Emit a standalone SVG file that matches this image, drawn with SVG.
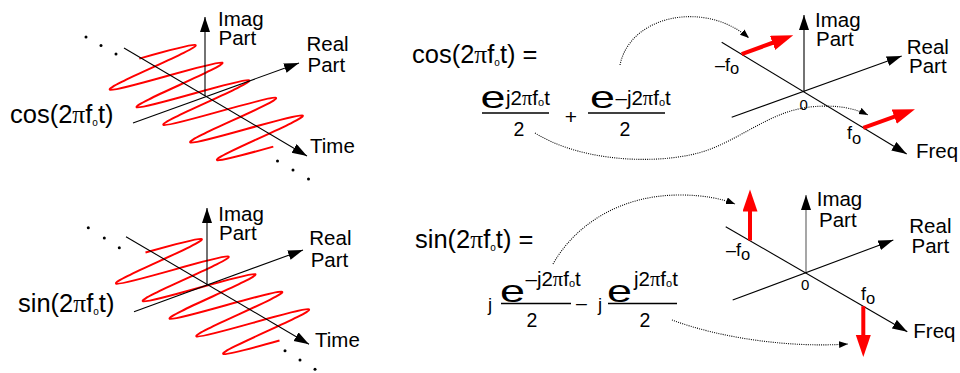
<svg xmlns="http://www.w3.org/2000/svg" width="960" height="373" viewBox="0 0 960 373">
<style>
.ax{stroke:#000;stroke-width:1.1;fill:none}
.wave{fill:none;stroke:#f00;stroke-width:2;vector-effect:non-scaling-stroke}
.t{font-family:"Liberation Sans",Arial,sans-serif;fill:#000}
.lbl{font-size:20.5px}
.pi{font-family:"Liberation Serif","Times New Roman",serif}
.dotc{stroke:#000;stroke-width:1.1;fill:none;stroke-dasharray:1 1.2}
.red{stroke:#f00;stroke-width:4;fill:none}
.fl{stroke:#000;stroke-width:1.6}
.big{font-size:32px}
.sup{font-size:20.5px}
</style>
<defs>
<marker id="ah" markerUnits="userSpaceOnUse" markerWidth="16" markerHeight="11" refX="15" refY="5" orient="auto"><path d="M0,0 L15,5 L0,10 z" fill="#000"/></marker>
<marker id="rh" markerUnits="userSpaceOnUse" markerWidth="24" markerHeight="16" refX="1" refY="7.5" orient="auto"><path d="M0,0 L22,7.5 L0,15 z" fill="#f00"/></marker>
<marker id="sh" markerUnits="userSpaceOnUse" markerWidth="10" markerHeight="8" refX="9" refY="3.5" orient="auto"><path d="M0,0 L9,3.5 L0,7 z" fill="#000"/></marker>
</defs>

<g id="cos-time">
<path class="wave" transform="matrix(6.7 4.4 49.5 -17.9 139.3 58.6)" d="M0,0 C0.326,0.512 0.638,1 1,1 S1.674,0.512 2,0 S2.638,-1 3,-1 S3.674,-0.512 4,0 S4.638,1 5,1 S5.674,0.512 6,0 S6.638,-1 7,-1 S7.674,-0.512 8,0 S8.638,1 9,1 S9.674,0.512 10,0 S10.638,-1 11,-1 S11.674,-0.512 12,0 S12.638,1 13,1 S13.674,0.512 14,0 S14.638,-1 15,-1 S15.674,-0.512 16,0 S16.638,1 17,1 S17.674,0.512 18,0 S18.638,-1 19,-1 S19.674,-0.512 20,0"/>
<line class="ax" x1="205" y1="96" x2="205" y2="17" marker-end="url(#ah)"/>
<line class="ax" x1="133" y1="123" x2="299" y2="63" marker-end="url(#ah)"/>
<line class="ax" x1="124" y1="48" x2="307" y2="156" marker-end="url(#ah)"/>
<circle cx="86" cy="37" r="1.5"/><circle cx="101" cy="45.5" r="1.5"/><circle cx="116" cy="54" r="1.5"/>
<circle cx="277.5" cy="161" r="1.5"/><circle cx="293" cy="170" r="1.5"/><circle cx="308.5" cy="179" r="1.5"/>
<text class="t lbl" x="218" y="26">Imag</text>
<text class="t lbl" x="218.5" y="45">Part</text>
<text class="t lbl" x="306.5" y="51">Real</text>
<text class="t lbl" x="307.5" y="72">Part</text>
<text class="t lbl" x="310" y="153">Time</text>
<text class="t" x="10" y="123" font-size="25.5">cos(2<tspan class="pi">π</tspan>f<tspan font-size="10" dy="3">o</tspan><tspan dy="-3">t)</tspan></text>
</g>

<g id="sin-time">
<path class="wave" transform="matrix(6.7 4.4 49.5 -17.9 145.5 252.5)" d="M0,0 C0.326,0.512 0.638,1 1,1 S1.674,0.512 2,0 S2.638,-1 3,-1 S3.674,-0.512 4,0 S4.638,1 5,1 S5.674,0.512 6,0 S6.638,-1 7,-1 S7.674,-0.512 8,0 S8.638,1 9,1 S9.674,0.512 10,0 S10.638,-1 11,-1 S11.674,-0.512 12,0 S12.638,1 13,1 S13.674,0.512 14,0 S14.638,-1 15,-1 S15.674,-0.512 16,0 S16.638,1 17,1 S17.674,0.512 18,0 S18.638,-1 19,-1 S19.674,-0.512 20,0"/>
<line class="ax" x1="207" y1="285" x2="207" y2="208" marker-end="url(#ah)"/>
<line class="ax" x1="134" y1="311.7" x2="303" y2="250" marker-end="url(#ah)"/>
<line class="ax" x1="126" y1="236.7" x2="309" y2="344.3" marker-end="url(#ah)"/>
<circle cx="88.3" cy="227.7" r="1.5"/><circle cx="104.3" cy="238" r="1.5"/><circle cx="119.3" cy="247.7" r="1.5"/>
<circle cx="285" cy="350.7" r="1.5"/><circle cx="300" cy="360" r="1.5"/><circle cx="315" cy="369.3" r="1.5"/>
<text class="t lbl" x="218.3" y="221">Imag</text>
<text class="t lbl" x="219" y="240">Part</text>
<text class="t lbl" x="309.3" y="245">Real</text>
<text class="t lbl" x="310.7" y="266.7">Part</text>
<text class="t lbl" x="315" y="346.7">Time</text>
<text class="t" x="18" y="312" font-size="25.5">sin(2<tspan class="pi">π</tspan>f<tspan font-size="10" dy="3">o</tspan><tspan dy="-3">t)</tspan></text>
</g>

<g id="cos-formula">
<text class="t" x="412" y="63" font-size="25.5">cos(2<tspan class="pi">π</tspan>f<tspan font-size="10" dy="3">o</tspan><tspan dy="-3">t) =</tspan></text>
<text class="t big" x="480.5" y="108" textLength="25" lengthAdjust="spacingAndGlyphs">e</text>
<text class="t sup" x="506" y="105">j2<tspan class="pi">π</tspan>f<tspan font-size="11" dy="1">o</tspan><tspan dy="-1">t</tspan></text>
<line class="fl" x1="482" y1="113" x2="549" y2="113"/>
<text class="t" x="519" y="136" font-size="19.5" text-anchor="middle">2</text>
<text class="t" x="571" y="124" font-size="21" text-anchor="middle">+</text>
<text class="t big" x="590" y="108" textLength="25" lengthAdjust="spacingAndGlyphs">e</text>
<text class="t sup" x="615.5" y="105">–j2<tspan class="pi">π</tspan>f<tspan font-size="11" dy="1">o</tspan><tspan dy="-1">t</tspan></text>
<line class="fl" x1="588" y1="113" x2="665" y2="113"/>
<text class="t" x="625" y="136" font-size="19.5" text-anchor="middle">2</text>
</g>

<g id="sin-formula">
<text class="t" x="415" y="248" font-size="25.5">sin(2<tspan class="pi">π</tspan>f<tspan font-size="10" dy="3">o</tspan><tspan dy="-3">t) =</tspan></text>
<text class="t" x="488" y="311" font-size="18.5">j</text>
<text class="t big" x="500" y="302" textLength="25" lengthAdjust="spacingAndGlyphs">e</text>
<text class="t sup" x="525.5" y="286">–j2<tspan class="pi">π</tspan>f<tspan font-size="11" dy="1">o</tspan><tspan dy="-1">t</tspan></text>
<line class="fl" x1="501" y1="303.5" x2="571" y2="303.5"/>
<text class="t" x="532" y="327" font-size="19.5" text-anchor="middle">2</text>
<text class="t" x="576" y="310" font-size="19.5">–</text>
<text class="t" x="598" y="311" font-size="18.5">j</text>
<text class="t big" x="607" y="302" textLength="25" lengthAdjust="spacingAndGlyphs">e</text>
<text class="t sup" x="634" y="286">j2<tspan class="pi">π</tspan>f<tspan font-size="11" dy="1">o</tspan><tspan dy="-1">t</tspan></text>
<line class="fl" x1="608" y1="303.5" x2="677" y2="303.5"/>
<text class="t" x="645" y="327" font-size="19.5" text-anchor="middle">2</text>
</g>

<g id="cos-freq">
<line class="ax" x1="804" y1="92" x2="804" y2="15" marker-end="url(#ah)"/>
<line class="ax" x1="731.7" y1="117.3" x2="901.7" y2="56" marker-end="url(#ah)"/>
<line class="ax" x1="721.7" y1="42.3" x2="906.7" y2="154" marker-end="url(#ah)"/>
<line class="red" x1="741.7" y1="54.2" x2="773.5" y2="42.5" marker-end="url(#rh)"/>
<line class="red" x1="863.3" y1="127.8" x2="895.2" y2="116.3" marker-end="url(#rh)"/>
<text class="t lbl" x="815" y="27">Imag</text>
<text class="t lbl" x="816" y="46">Part</text>
<text class="t lbl" x="906.7" y="54">Real</text>
<text class="t lbl" x="909" y="73">Part</text>
<text class="t lbl" x="916" y="158.3">Freq</text>
<text class="t" x="799.5" y="110" font-size="15">0</text>
<text class="t" x="715" y="70.7" font-size="18">–f<tspan font-size="16.5" dy="3.5">o</tspan></text>
<text class="t" x="847" y="139.3" font-size="18">f<tspan font-size="16.5" dy="5">o</tspan></text>
</g>

<g id="sin-freq">
<line x1="806" y1="273" x2="806" y2="195" stroke="#777" stroke-width="1.3" marker-end="url(#ah)"/>
<line class="ax" x1="732.7" y1="300" x2="893.3" y2="240" marker-end="url(#ah)"/>
<line class="ax" x1="725.7" y1="226.7" x2="907.3" y2="331.7" marker-end="url(#ah)"/>
<line class="red" x1="750" y1="240.5" x2="750" y2="210.5" marker-end="url(#rh)"/>
<line class="red" x1="863.3" y1="306.2" x2="863.3" y2="336" marker-end="url(#rh)"/>
<text class="t lbl" x="816.7" y="206">Imag</text>
<text class="t lbl" x="819" y="226.5">Part</text>
<text class="t lbl" x="909.3" y="233.3">Real</text>
<text class="t lbl" x="911.5" y="253">Part</text>
<text class="t lbl" x="913.3" y="338.3">Freq</text>
<text class="t" x="801" y="290" font-size="15">0</text>
<text class="t" x="726" y="256" font-size="18">–f<tspan font-size="16.5" dy="4">o</tspan></text>
<text class="t" x="861" y="300" font-size="18">f<tspan font-size="16.5" dy="4">o</tspan></text>
</g>

<g id="connectors">
<path class="dotc" d="M620,65 C630,15 705,0 749,38" marker-end="url(#sh)"/>
<path class="dotc" d="M535,133 C575,158 640,165 690,155 C735,146 765,112 810,107 C838,104 856,109 868,115" marker-end="url(#sh)"/>
<path class="dotc" d="M553,264 C575,225 620,195 680,195 C705,195 722,199 735,204" marker-end="url(#sh)"/>
<path class="dotc" d="M672,320 C720,338 790,348 848,344" marker-end="url(#sh)"/>
</g>
</svg>
